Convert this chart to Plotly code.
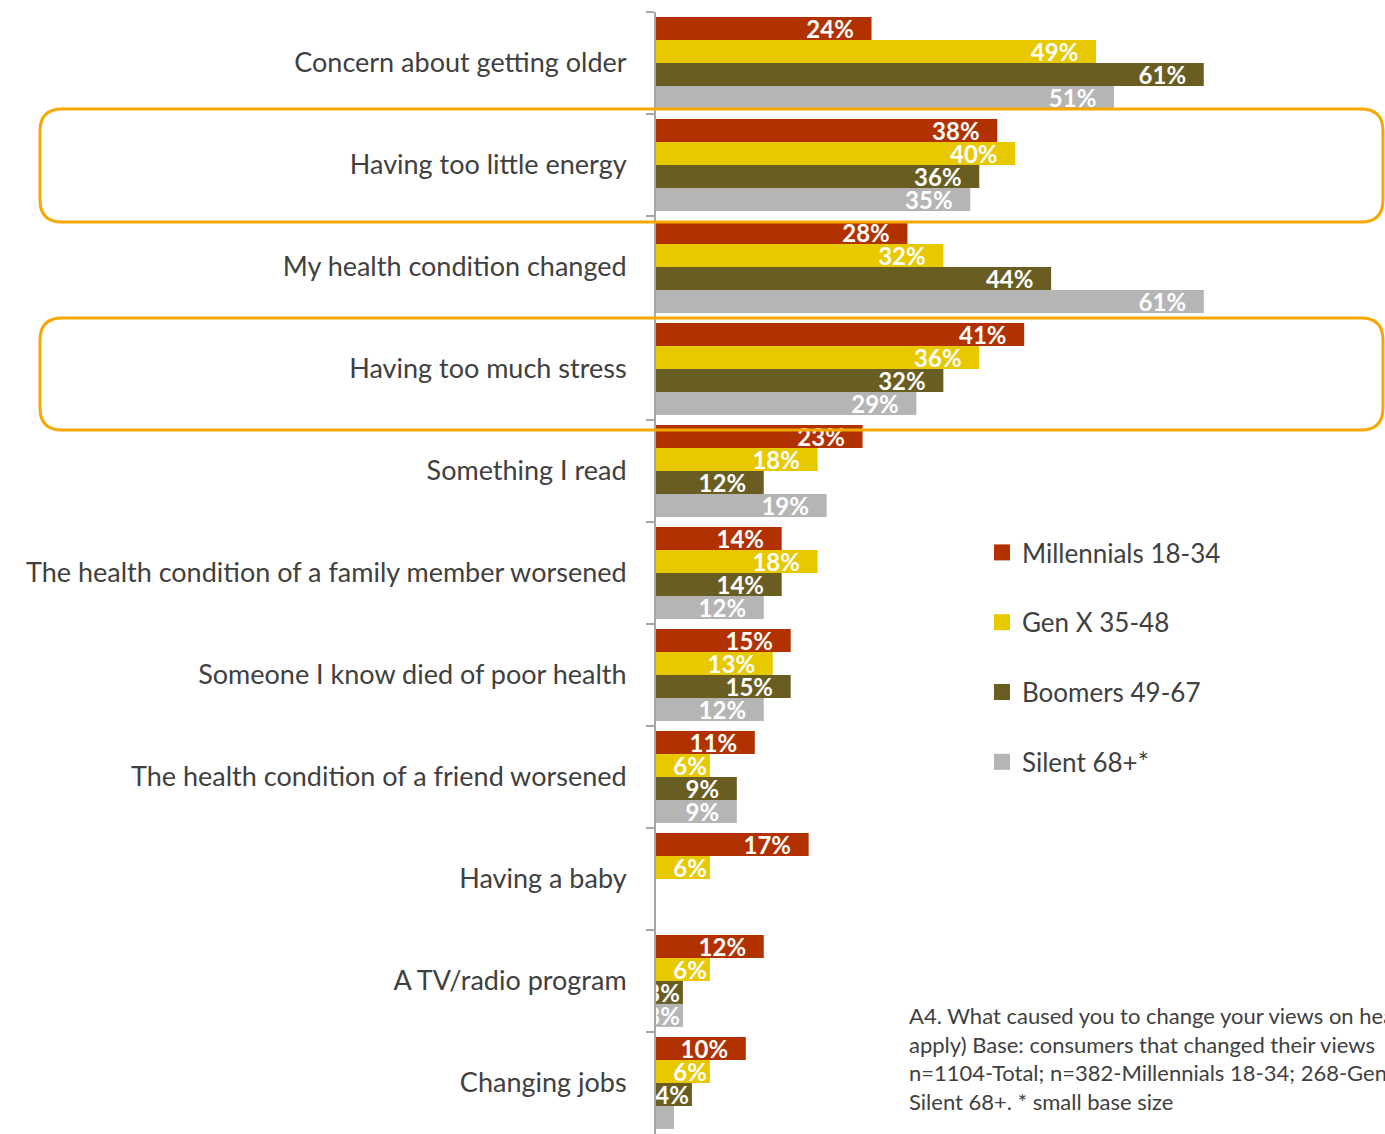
import plotly.graph_objects as go

# Reasons for changing views on health, by generation (% of respondents)
categories = [
    "Concern about getting older",
    "Having too little energy",
    "My health condition changed",
    "Having too much stress",
    "Something I read",
    "The health condition of a family member worsened",
    "Someone I know died of poor health",
    "The health condition of a friend worsened",
    "Having a baby",
    "A TV/radio program",
    "Changing jobs",
]

millennials = [24, 38, 28, 41, 23, 14, 15, 11, 17, 12, 10]
gen_x = [49, 40, 32, 36, 18, 18, 13, 6, 6, 6, 6]
boomers = [61, 36, 44, 32, 12, 14, 15, 9, 0, 3, 4]
silent = [51, 35, 61, 29, 19, 12, 12, 9, 0, 3, 2]

series_names = ["Millennials 18-34", "Gen X 35-48", "Boomers 49-67", "Silent 68+*"]
series_values = [millennials, gen_x, boomers, silent]
series_colors = ["#B13200", "#E8C900", "#695D22", "#B5B5B5"]

highlighted = ["Having too little energy", "Having too much stress"]

footnote_lines = [
    "A4. What caused you to change your views on health",
    "apply) Base: consumers that changed their views",
    "n=1104-Total; n=382-Millennials 18-34; 268-Gen X 35-48;",
    "Silent 68+. * small base size",
]

W, H = 1385, 1134
ML, MR, MT, MB = 656, 0, 12, 0
PX_PER_PCT = 8.98
plot_w = W - ML - MR
plot_h = H - MT - MB

FONT = "Lato, 'Open Sans', sans-serif"
TEXT_COLOR = "#404040"
END_PAD = "\u00a0\u00a0\u2009"


def bar_label(v):
    # small bars keep the value tight to the end; wider bars get extra end padding
    if v < 3:
        return ""
    if v >= 8:
        return f"{v}%" + END_PAD
    return f"{v}%"


fig = go.Figure()
for name, vals, color in zip(series_names, series_values, series_colors):
    fig.add_trace(go.Bar(
        y=categories,
        x=vals,
        name=name,
        orientation="h",
        marker=dict(color=color, line=dict(width=0)),
        text=[bar_label(v) for v in vals],
        textposition="inside",
        insidetextanchor="end",
        constraintext="none",
        textfont=dict(family=FONT, size=24, color="white", weight="bold"),
        showlegend=False,
        hoverinfo="skip",
        cliponaxis=True,
    ))

# Legend entries with large square swatches
for name, color in zip(series_names, series_colors):
    fig.add_trace(go.Scatter(
        x=[None], y=[None], mode="markers", name=name,
        marker=dict(symbol="square", size=16, color=color),
        legendgroup=name, showlegend=True, hoverinfo="skip",
    ))


def to_paper(px, py):
    return (px - ML) / plot_w, 1 - (py - MT) / plot_h


def rounded_box(x0, y0, x1, y1, r):
    ax, ay = to_paper(x0 + r, y0)
    bx, by = to_paper(x1 - r, y0)
    cx, cy = to_paper(x1, y0)
    dx, dy = to_paper(x1, y0 + r)
    ex, ey = to_paper(x1, y1 - r)
    fx, fy = to_paper(x1, y1)
    gx, gy = to_paper(x1 - r, y1)
    hx, hy = to_paper(x0 + r, y1)
    ix, iy = to_paper(x0, y1)
    jx, jy = to_paper(x0, y1 - r)
    kx, ky = to_paper(x0, y0 + r)
    lx, ly = to_paper(x0, y0)
    return (f"M{ax},{ay} L{bx},{by} Q{cx},{cy} {dx},{dy} L{ex},{ey} "
            f"Q{fx},{fy} {gx},{gy} L{hx},{hy} Q{ix},{iy} {jx},{jy} "
            f"L{kx},{ky} Q{lx},{ly} {ax},{ay} Z")


# Orange outline around the highlighted reasons (pixel overhang above/below the band)
band = plot_h / len(categories)
box_overhang = {"Having too little energy": (5, 6), "Having too much stress": (0, 10)}
shapes = []
for cat in highlighted:
    i = categories.index(cat)
    up, down = box_overhang[cat]
    top = MT + i * band - up
    bottom = MT + (i + 1) * band + down
    shapes.append(dict(
        type="path", xref="paper", yref="paper",
        path=rounded_box(40, top, 1383, bottom, 22),
        line=dict(color="#F7A800", width=3),
        layer="above",
    ))

fx, fy = to_paper(907, 1000)
annotations = [dict(
    xref="paper", yref="paper", x=fx, y=fy,
    xanchor="left", yanchor="top", align="left",
    text="<br>".join(footnote_lines), showarrow=False,
    font=dict(family=FONT, size=22, color=TEXT_COLOR),
)]

lx, ly = to_paper(982, 529)

fig.update_layout(
    width=W, height=H,
    margin=dict(l=ML, r=MR, t=MT, b=MB, pad=0),
    paper_bgcolor="white", plot_bgcolor="white",
    barmode="group", bargap=0.1, bargroupgap=0,
    font=dict(family=FONT, color=TEXT_COLOR),
    xaxis=dict(range=[0, plot_w / PX_PER_PCT], visible=False, fixedrange=True),
    yaxis=dict(
        type="category", categoryorder="array", categoryarray=categories,
        autorange="reversed",
        showline=True, linecolor="#A6A6A6", linewidth=2,
        ticks="outside", ticklen=8, tickcolor="#A6A6A6", tickwidth=2,
        tickson="boundaries", showgrid=False,
        ticklabelstandoff=22,
        tickfont=dict(family=FONT, size=27, color=TEXT_COLOR),
    ),
    legend=dict(
        x=lx, y=ly, xanchor="left", yanchor="top",
        font=dict(family=FONT, size=26, color=TEXT_COLOR),
        tracegroupgap=33, traceorder="grouped",
        itemsizing="trace", itemwidth=30,
        bgcolor="rgba(0,0,0,0)",
    ),
    shapes=shapes,
    annotations=annotations,
    showlegend=True,
)

fig.write_html("out.html")
